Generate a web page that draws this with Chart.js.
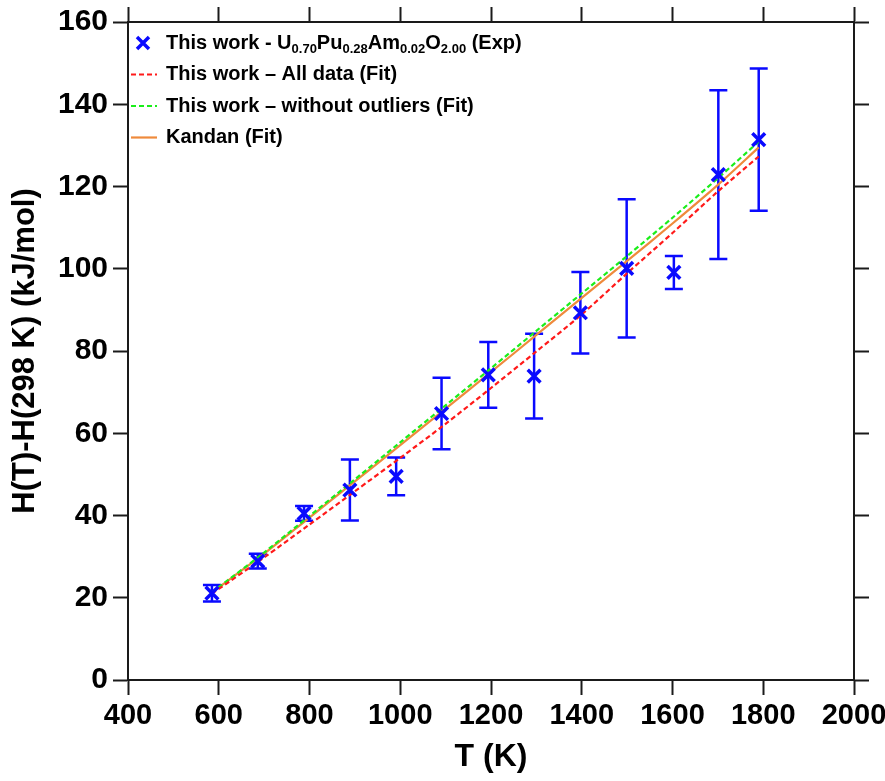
<!DOCTYPE html>
<html>
<head>
<meta charset="utf-8">
<script src="https://cdn.jsdelivr.net/npm/chart.js@4.4.1/dist/chart.umd.min.js"></script>
<style>
html, body { margin: 0; padding: 0; background: #fff; }
#wrap { width: 885px; height: 781px; }
</style>
</head>
<body>
<div id="wrap"><canvas id="enthalpyChart" width="885" height="781"></canvas></div>
<script>
// measured drop calorimetry points (T in K, H in kJ/mol)
var tempExp = [585, 686, 788, 889, 991, 1091, 1194, 1295, 1397, 1499, 1603, 1701, 1790];
var enthExp = [21.1, 28.9, 40.5, 46.2, 49.5, 64.8, 74.2, 73.9, 89.3, 100.1, 99.1, 122.9, 131.4];
var enthErr = [2.0, 1.8, 1.8, 7.4, 4.6, 8.7, 8.0, 10.3, 9.9, 16.8, 4.0, 20.5, 17.3];

// fitted curves
var tempFit = [585, 700, 800, 900, 1000, 1100, 1200, 1300, 1400, 1500, 1600, 1700, 1790];
var fitAll = [21.0, 29.8, 37.8, 45.9, 54.0, 62.3, 71.0, 79.9, 88.9, 98.9, 108.7, 118.8, 127.3];
var fitNoOutliers = [21.3, 31.0, 39.9, 48.8, 57.8, 66.8, 75.8, 84.9, 94.0, 103.1, 112.4, 122.0, 130.9];
var fitKandan = [21.3, 30.7, 39.5, 48.3, 57.1, 66.0, 74.9, 83.9, 92.9, 101.9, 111.0, 120.4, 129.5];

var legendLabels = [
	'This work - U_{0.70}Pu_{0.28}Am_{0.02}O_{2.00} (Exp)',
	'This work \u2013 All data (Fit)',
	'This work \u2013 without outliers (Fit)',
	'Kandan (Fit)'
];

var xMin = 400, xMax = 2000, xStep = 200;
var yMin = 0, yMax = 160, yStep = 20;

function toPoints(xs, ys) {
	var pts = [];
	for (var i = 0; i < xs.length; i++) pts.push({x: xs[i], y: ys[i]});
	return pts;
}

var BLUE = '#0a0aff';
var FONT = "'Liberation Sans', Arial, sans-serif";
var AXIS = '#1a1a1a';

var errorBars = {
	id: 'errorBars',
	beforeDatasetsDraw: function (chart) {
		var ctx = chart.ctx, xs = chart.scales.x, ys = chart.scales.y;
		ctx.save();
		ctx.strokeStyle = BLUE;
		ctx.lineWidth = 2.5;
		for (var i = 0; i < tempExp.length; i++) {
			var px = xs.getPixelForValue(tempExp[i]);
			var top = ys.getPixelForValue(enthExp[i] + enthErr[i]);
			var bot = ys.getPixelForValue(enthExp[i] - enthErr[i]);
			ctx.beginPath();
			ctx.moveTo(px, top); ctx.lineTo(px, bot);
			ctx.moveTo(px - 9, top); ctx.lineTo(px + 9, top);
			ctx.moveTo(px - 9, bot); ctx.lineTo(px + 9, bot);
			ctx.stroke();
		}
		ctx.restore();
	}
};

// legend with subscripts, drawn by hand
function drawRichText(ctx, text, x, y) {
	var parts = text.split(/(_\{[^}]*\})/);
	parts.forEach(function (p) {
		if (!p) return;
		if (p.indexOf('_{') === 0) {
			var s = p.slice(2, -1);
			ctx.font = 'bold 13px ' + FONT;
			ctx.fillText(s, x, y + 6);
			x += ctx.measureText(s).width;
		} else {
			ctx.font = 'bold 20px ' + FONT;
			ctx.fillText(p, x, y);
			x += ctx.measureText(p).width;
		}
	});
}

var richLegend = {
	id: 'richLegend',
	afterDraw: function (chart) {
		var ctx = chart.ctx;
		var x0 = 131, x1 = 157, tx = 166, y0 = 43, dy = 31.5;
		ctx.save();
		ctx.textBaseline = 'middle';
		ctx.fillStyle = '#000';
		chart.data.datasets.forEach(function (ds, i) {
			var y = y0 + i * dy;
			ctx.save();
			if (i === 0) {
				var cx = 143, r = 6;
				ctx.strokeStyle = ds.borderColor;
				ctx.lineWidth = 3.5;
				ctx.beginPath();
				ctx.moveTo(cx - r, y - r); ctx.lineTo(cx + r, y + r);
				ctx.moveTo(cx + r, y - r); ctx.lineTo(cx - r, y + r);
				ctx.stroke();
			} else {
				ctx.strokeStyle = ds.borderColor;
				ctx.lineWidth = ds.borderWidth;
				ctx.setLineDash(ds.borderDash || []);
				ctx.beginPath();
				ctx.moveTo(x0, y); ctx.lineTo(x1, y);
				ctx.stroke();
			}
			ctx.restore();
			drawRichText(ctx, legendLabels[i], tx, y);
		});
		ctx.restore();
	}
};

function axisGrid() {
	return { drawOnChartArea: false, drawTicks: true, tickLength: 15, tickWidth: 2, tickColor: AXIS };
}

function noPad(s) {
	s.paddingLeft = 0; s.paddingRight = 0; s.paddingTop = 0; s.paddingBottom = 0;
}

var ctx = document.getElementById('enthalpyChart').getContext('2d');
var enthalpyChart = new Chart(ctx, {
	type: 'scatter',
	data: {
		datasets: [{
			label: 'This work - Exp',
			data: toPoints(tempExp, enthExp),
			borderColor: BLUE,
			backgroundColor: BLUE,
			pointStyle: 'crossRot',
			pointRadius: 9,
			pointBorderWidth: 3.5,
			showLine: false
		}, {
			label: 'This work - All data (Fit)',
			data: toPoints(tempFit, fitAll),
			borderColor: '#ff1a1a',
			borderWidth: 2.2,
			borderDash: [5, 3],
			showLine: true,
			pointRadius: 0,
			tension: 0.3
		}, {
			label: 'This work - without outliers (Fit)',
			data: toPoints(tempFit, fitNoOutliers),
			borderColor: '#1aee1a',
			borderWidth: 2.2,
			borderDash: [5, 3],
			showLine: true,
			pointRadius: 0,
			tension: 0.3
		}, {
			label: 'Kandan (Fit)',
			data: toPoints(tempFit, fitKandan),
			borderColor: '#ef8a3c',
			borderWidth: 2.2,
			showLine: true,
			pointRadius: 0,
			tension: 0.3
		}]
	},
	options: {
		responsive: false,
		animation: false,
		layout: { padding: 0 },
		plugins: {
			legend: { display: false },
			tooltip: { enabled: false }
		},
		scales: {
			x: {
				type: 'linear', position: 'bottom', min: xMin, max: xMax,
				ticks: {
					stepSize: xStep, color: '#000', padding: 4,
					font: { family: FONT, size: 29, weight: 'bold' },
					callback: function (v) { return String(v); }
				},
				grid: axisGrid(),
				border: { display: true, color: AXIS, width: 2 },
				title: {
					display: true, text: 'T (K)', color: '#000',
					font: { family: FONT, size: 32, weight: 'bold', lineHeight: 1 },
					padding: { top: 0, bottom: 8 }
				},
				afterFit: function (s) { s.height = 101; noPad(s); }
			},
			x2: {
				type: 'linear', position: 'top', min: xMin, max: xMax,
				ticks: { stepSize: xStep, display: false },
				grid: axisGrid(),
				border: { display: true, color: AXIS, width: 2 },
				afterFit: function (s) { s.height = 22; noPad(s); }
			},
			y: {
				type: 'linear', position: 'left', min: yMin, max: yMax,
				ticks: {
					stepSize: yStep, color: '#000', padding: 5,
					font: { family: FONT, size: 30, weight: 'bold' },
					callback: function (v) { return String(v); }
				},
				grid: axisGrid(),
				border: { display: true, color: AXIS, width: 2 },
				title: {
					display: true, text: 'H(T)-H(298 K) (kJ/mol)', color: '#000',
					font: { family: FONT, size: 31, weight: 'bold', lineHeight: 1 },
					padding: { top: 10, bottom: 0 }
				},
				afterFit: function (s) { s.width = 128; noPad(s); }
			},
			y2: {
				type: 'linear', position: 'right', min: yMin, max: yMax,
				ticks: { stepSize: yStep, display: false },
				grid: axisGrid(),
				border: { display: true, color: AXIS, width: 2 },
				afterFit: function (s) { s.width = 31; noPad(s); }
			}
		}
	},
	plugins: [errorBars, richLegend]
});
</script>
</body>
</html>
